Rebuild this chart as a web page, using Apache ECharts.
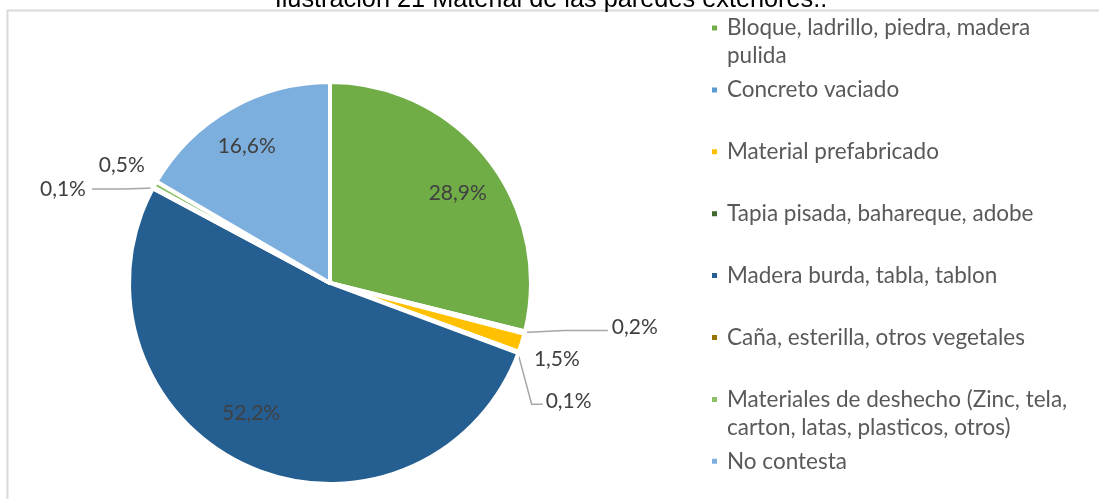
<!DOCTYPE html>
<html>
<head>
<meta charset="utf-8">
<script src="https://cdn.jsdelivr.net/npm/echarts@6/dist/echarts.min.js"></script>
<style>
  html, body { margin: 0; padding: 0; background: #fff; }
  #chart { width: 1099px; height: 499px; }
</style>
</head>
<body>
<div id="chart"></div>
<script>
// datos de la ilustracion
var categories = [
    'Bloque, ladrillo, piedra, madera pulida',
    'Concreto vaciado',
    'Material prefabricado',
    'Tapia pisada, bahareque, adobe',
    'Madera burda, tabla, tablon',
    'Caña, esterilla, otros vegetales',
    'Materiales de deshecho (Zinc, tela, carton, latas, plasticos, otros)',
    'No contesta'
];
var shares = [28.9, 0.2, 1.5, 0.1, 52.2, 0.1, 0.5, 16.6];
var sliceColors = ['#70ad47', '#5b9bd5', '#ffc000', '#43682b', '#255e91', '#997300', '#8cc168', '#7cafdd'];
// cortes de linea de la leyenda
var legendLines = {
    'Bloque, ladrillo, piedra, madera pulida': ['Bloque, ladrillo, piedra, madera', 'pulida'],
    'Materiales de deshecho (Zinc, tela, carton, latas, plasticos, otros)': ['Materiales de deshecho (Zinc, tela,', 'carton, latas, plasticos, otros)']
};

var cx = 330, cy = 283, R = 200;
var LH = 28;

var $each = function (arr, fn) { for (var i = 0; i < arr.length; i++) fn(arr[i], i); };
var total = 0;
$each(shares, function (v) { total += v; });
var midAngles = [];
var acc = 0;
$each(shares, function (v) {
    midAngles.push((acc + v / 2) / total * 360);
    acc += v;
});

var pt = function (angle, r) {
    var a = angle * Math.PI / 180;
    return [cx + r * Math.sin(a), cy - r * Math.cos(a)];
};

// etiquetas como en excel
var placeLabel = function (params) {
    var i = params.dataIndex;
    var m = midAngles[i];
    var e = pt(m, R);
    var p;
    switch (i) {
        case 0:
            p = pt(m + 3, 0.78 * R);
            return { x: p[0], y: p[1], align: 'center', verticalAlign: 'middle' };
        case 4:
            p = pt(m + 7, 0.76 * R);
            return { x: p[0], y: p[1], align: 'center', verticalAlign: 'middle' };
        case 7:
            p = pt(m - 1.5, 0.8 * R);
            return { x: p[0], y: p[1], align: 'center', verticalAlign: 'middle' };
        case 1:
            return {
                x: e[0] + 88, y: e[1] - 5, align: 'left', verticalAlign: 'middle',
                labelLinePoints: [[e[0], e[1]], [e[0] + 40, e[1] - 2], [e[0] + 84, e[1] - 2]]
            };
        case 2:
            return { x: e[0] + 13, y: e[1] + 17, align: 'left', verticalAlign: 'middle' };
        case 3:
            return {
                x: e[0] + 28, y: e[1] + 49, align: 'left', verticalAlign: 'middle',
                labelLinePoints: [[e[0], e[1]], [e[0] + 14, e[1] + 52], [e[0] + 25, e[1] + 52]]
            };
        case 5:
            return {
                x: e[0] - 68, y: e[1] + 1, align: 'right', verticalAlign: 'middle',
                labelLinePoints: [[e[0], e[1]], [e[0] - 30, e[1] + 1], [e[0] - 62, e[1] + 1]]
            };
        case 6:
            return { x: e[0] - 34, y: e[1] - 20, align: 'center', verticalAlign: 'middle' };
    }
};

var withLine = [1, 3, 5];
var pieData = [];
$each(categories, function (name, i) {
    pieData.push({
        name: name,
        value: shares[i],
        itemStyle: { color: sliceColors[i] },
        label: { position: (i == 0 || i == 4 || i == 7) ? 'inside' : 'outside' },
        labelLine: { show: withLine.indexOf(i) >= 0 }
    });
});

// una leyenda por elemento para que coincidan los renglones
var legends = [];
$each(categories, function (name, i) {
    var c = 28 + i * 61.9;
    var wrapped = !!legendLines[name];
    legends.push({
        data: [name],
        orient: 'vertical',
        left: 710,
        top: c - LH / 2 - (wrapped ? LH : 0),
        padding: 0,
        itemWidth: 7,
        itemHeight: 7,
        icon: 'rect',
        selectedMode: false,
        formatter: function (n) {
            var l = legendLines[n];
            return l ? '\n' + l[0] + '\n' + l[1] : n;
        },
        textStyle: {
            fontFamily: 'Lato',
            fontSize: 22.5,
            color: '#595959',
            lineHeight: LH,
            padding: [0, 0, 0, 4]
        }
    });
});

var chart = echarts.init(document.getElementById('chart'));
chart.setOption({
    animation: false,
    backgroundColor: '#fff',
    graphic: [
        {
            type: 'rect',
            shape: { x: 7.5, y: 10.5, width: 1200, height: 600 },
            style: { fill: 'none', stroke: '#d9d9d9', lineWidth: 2 },
            silent: true
        },
        {
            type: 'text',
            x: 551,
            y: -12,
            style: {
                text: 'Ilustración 21 Material de las paredes exteriores..',
                fontFamily: 'Liberation Sans',
                fontSize: 25.3,
                fill: '#000',
                align: 'center',
                verticalAlign: 'top'
            },
            silent: true
        }
    ],
    legend: legends,
    series: [
        {
            type: 'pie',
            center: [cx, cy],
            radius: R + 1,
            startAngle: 90,
            clockwise: true,
            avoidLabelOverlap: false,
            emphasis: { disabled: true },
            itemStyle: { borderColor: '#fff', borderWidth: 4 },
            label: {
                show: true,
                fontFamily: 'Lato',
                fontSize: 21,
                color: '#404040',
                formatter: function (p) {
                    return p.value.toFixed(1).replace('.', ',') + '%';
                }
            },
            labelLine: {
                lineStyle: { color: '#a6a6a6', width: 1.5 }
            },
            labelLayout: placeLabel,
            data: pieData
        }
    ]
});
</script>
</body>
</html>
